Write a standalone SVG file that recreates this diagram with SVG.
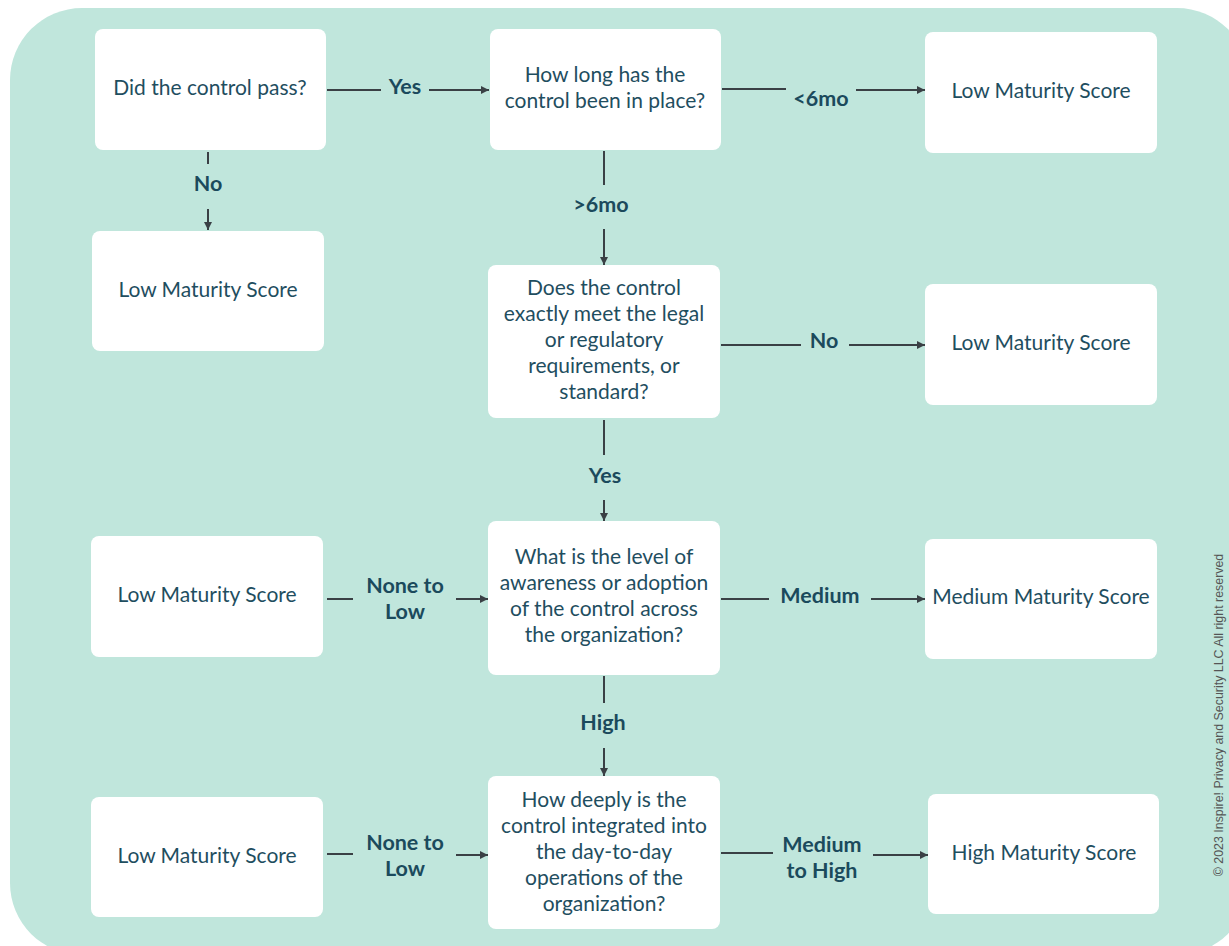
<svg xmlns="http://www.w3.org/2000/svg" width="1229" height="946" viewBox="0 0 1229 946">
  <style>
    .box { fill: #ffffff; }
    .txt { font-family: Lato, "Noto Sans", sans-serif; font-size: 21px; fill: #1f4e5f; text-anchor: middle; }
    .lbl { font-family: Lato, "Noto Sans", sans-serif; font-size: 21.5px; font-weight: bold; fill: #1b4a5c; text-anchor: middle; }
    .ln { stroke: #3a4045; stroke-width: 2; fill: none; }
    .copy { font-family: "Liberation Sans", Arial, sans-serif; font-size: 12.4px; fill: #555555; text-anchor: middle; }
  </style>
  <defs>
    <marker id="arrow" markerUnits="userSpaceOnUse" markerWidth="10" markerHeight="10" viewBox="0 0 10 10" refX="9" refY="5" orient="auto">
      <path d="M1,1 L9,5 L1,9 Z" fill="#3a4045"/>
    </marker>
  </defs>

  <!-- backdrop panel -->
  <rect x="10" y="8" width="1239" height="947" rx="72" fill="#c0e6dc"/>

  <!-- connectors -->
  <g id="connectors">
    <!-- pass? -> how long -->
    <line class="ln" x1="327" y1="90" x2="381" y2="90"/>
    <line class="ln" x1="429" y1="90" x2="489" y2="90" marker-end="url(#arrow)"/>
    <text class="lbl" x="405" y="94">Yes</text>
    <!-- how long -> low (<6mo) -->
    <line class="ln" x1="722" y1="89" x2="786" y2="89"/>
    <line class="ln" x1="856" y1="90" x2="925" y2="90" marker-end="url(#arrow)"/>
    <text class="lbl" x="821" y="106">&lt;6mo</text>
    <!-- pass? -> low (No) -->
    <line class="ln" x1="208" y1="152" x2="208" y2="164"/>
    <line class="ln" x1="208" y1="209" x2="208" y2="230" marker-end="url(#arrow)"/>
    <text class="lbl" x="208" y="191">No</text>
    <!-- how long -> exactly meet (>6mo) -->
    <line class="ln" x1="604" y1="151" x2="604" y2="185"/>
    <line class="ln" x1="604" y1="229" x2="604" y2="265" marker-end="url(#arrow)"/>
    <text class="lbl" x="601" y="212">&gt;6mo</text>
    <!-- exactly meet -> low (No) -->
    <line class="ln" x1="721" y1="345" x2="801" y2="345"/>
    <line class="ln" x1="849" y1="345" x2="925" y2="345" marker-end="url(#arrow)"/>
    <text class="lbl" x="824" y="348">No</text>
    <!-- exactly meet -> awareness (Yes) -->
    <line class="ln" x1="604" y1="420" x2="604" y2="455"/>
    <line class="ln" x1="604" y1="500" x2="604" y2="521" marker-end="url(#arrow)"/>
    <text class="lbl" x="605" y="483">Yes</text>
    <!-- low <-> awareness (None to Low) -->
    <line class="ln" x1="327" y1="599" x2="353" y2="599"/>
    <line class="ln" x1="456" y1="599" x2="488" y2="599" marker-end="url(#arrow)"/>
    <text class="lbl" x="405" y="593">None to</text>
    <text class="lbl" x="405" y="619">Low</text>
    <!-- awareness -> medium -->
    <line class="ln" x1="721" y1="599" x2="769" y2="599"/>
    <line class="ln" x1="871" y1="599" x2="925" y2="599" marker-end="url(#arrow)"/>
    <text class="lbl" x="820" y="603">Medium</text>
    <!-- awareness -> integration (High) -->
    <line class="ln" x1="604" y1="676" x2="604" y2="703"/>
    <line class="ln" x1="604" y1="748" x2="604" y2="776" marker-end="url(#arrow)"/>
    <text class="lbl" x="603" y="730">High</text>
    <!-- low <-> integration (None to Low) -->
    <line class="ln" x1="327" y1="854" x2="353" y2="854"/>
    <line class="ln" x1="456" y1="855" x2="488" y2="855" marker-end="url(#arrow)"/>
    <text class="lbl" x="405" y="850">None to</text>
    <text class="lbl" x="405" y="876">Low</text>
    <!-- integration -> high -->
    <line class="ln" x1="721" y1="853" x2="773" y2="853"/>
    <line class="ln" x1="873" y1="855" x2="928" y2="855" marker-end="url(#arrow)"/>
    <text class="lbl" x="822" y="852">Medium</text>
    <text class="lbl" x="822" y="878">to High</text>
  </g>

  <!-- nodes -->
  <g id="control-pass">
    <rect class="box" x="95" y="29" width="231" height="121" rx="8"/>
    <text class="txt" x="210" y="95">Did the control pass?</text>
  </g>
  <g id="time-in-place">
    <rect class="box" x="490" y="29" width="231" height="121" rx="8"/>
    <text class="txt" x="605" y="82">How long has the</text>
    <text class="txt" x="605" y="108">control been in place?</text>
  </g>
  <g id="low-score-short">
    <rect class="box" x="925" y="32" width="232" height="121" rx="8"/>
    <text class="txt" x="1041" y="98">Low Maturity Score</text>
  </g>
  <g id="low-score-fail">
    <rect class="box" x="92" y="231" width="232" height="120" rx="8"/>
    <text class="txt" x="208" y="297">Low Maturity Score</text>
  </g>
  <g id="meets-requirements">
    <rect class="box" x="488" y="265" width="232" height="153" rx="8"/>
    <text class="txt" x="604" y="295">Does the control</text>
    <text class="txt" x="604" y="321">exactly meet the legal</text>
    <text class="txt" x="604" y="347">or regulatory</text>
    <text class="txt" x="604" y="373">requirements, or</text>
    <text class="txt" x="604" y="399">standard?</text>
  </g>
  <g id="low-score-unmet">
    <rect class="box" x="925" y="284" width="232" height="121" rx="8"/>
    <text class="txt" x="1041" y="350">Low Maturity Score</text>
  </g>
  <g id="low-score-awareness">
    <rect class="box" x="91" y="536" width="232" height="121" rx="8"/>
    <text class="txt" x="207" y="602">Low Maturity Score</text>
  </g>
  <g id="awareness">
    <rect class="box" x="488" y="521" width="232" height="154" rx="8"/>
    <text class="txt" x="604" y="564">What is the level of</text>
    <text class="txt" x="604" y="590">awareness or adoption</text>
    <text class="txt" x="604" y="616">of the control across</text>
    <text class="txt" x="604" y="642">the organization?</text>
  </g>
  <g id="medium-score">
    <rect class="box" x="925" y="539" width="232" height="120" rx="8"/>
    <text class="txt" x="1041" y="604">Medium Maturity Score</text>
  </g>
  <g id="low-score-integration">
    <rect class="box" x="91" y="797" width="232" height="120" rx="8"/>
    <text class="txt" x="207" y="863">Low Maturity Score</text>
  </g>
  <g id="integration">
    <rect class="box" x="488" y="776" width="232" height="153" rx="8"/>
    <text class="txt" x="604" y="807">How deeply is the</text>
    <text class="txt" x="604" y="833">control integrated into</text>
    <text class="txt" x="604" y="859">the day-to-day</text>
    <text class="txt" x="604" y="885">operations of the</text>
    <text class="txt" x="604" y="911">organization?</text>
  </g>
  <g id="high-score">
    <rect class="box" x="928" y="794" width="231" height="120" rx="8"/>
    <text class="txt" x="1044" y="860">High Maturity Score</text>
  </g>

  <!-- copyright notice -->
  <text class="copy" transform="translate(1223 715) rotate(-90)">© 2023 Inspire! Privacy and Security LLC All right reserved</text>
</svg>
